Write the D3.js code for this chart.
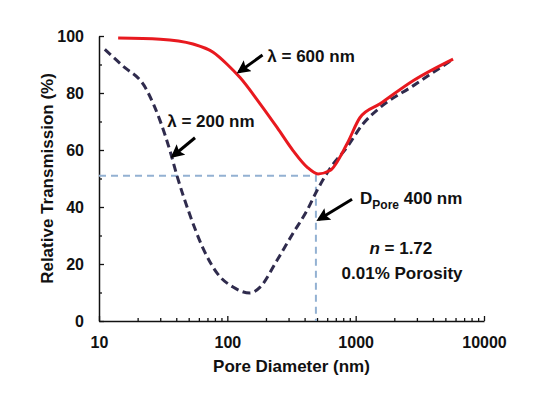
<!DOCTYPE html>
<html>
<head>
<meta charset="utf-8">
<script src="https://cdn.jsdelivr.net/npm/d3@7"></script>
<style>
  body { margin: 0; background: #fff; }
  text { font-family: "Liberation Sans", Arial, sans-serif; font-weight: bold; fill: #111; }
</style>
</head>
<body>
<script>
// pore diameter (nm) and relative transmission (%)
var redNm   = [14.1, 30, 54, 77.5, 99.5, 125.6, 180, 244, 325, 418, 509, 631, 857, 1082, 1549, 2800, 5742];
var redPct  = [99.3, 98.9, 97.2, 94.3, 90.1, 85.4, 76.2, 67.9, 59.8, 54, 51.6, 52.8, 62.2, 71.4, 76.2, 84.3, 91.9];

var blueNm  = [11.1, 16, 21, 22.5, 24, 29.9, 35.7, 40.5, 51.2, 64.7, 83.2, 110.8, 150, 180, 244, 325, 418, 500, 631, 857, 1143, 1549, 2800, 5742];
var bluePct = [95.3, 88.8, 84.4, 82.6, 80.3, 70.3, 59.8, 51, 37.1, 25.5, 16.8, 11.9, 9.8, 11.9, 21.3, 30.8, 38.8, 45.8, 53.5, 61, 69.2, 74.9, 82.5, 91.9];

var guideNm = 490, guidePct = 51;

var xTicks = [10, 100, 1000, 10000];
var yTicks = [0, 20, 40, 60, 80, 100];

var width = 554, height = 394;
var margin = {top: 36, right: 70, bottom: 73, left: 99};

var svg = d3.select("body").append("svg")
    .attr("width", width)
    .attr("height", height);

var x = d3.scaleLog().domain([10, 10000]).range([margin.left, width - margin.right]);
var y = d3.scaleLinear().domain([0, 100]).range([height - margin.bottom, margin.top]);

// minor ticks
var xMinor = [];
[10, 100, 1000].forEach(function (d) { for (var k = 2; k <= 9; k++) xMinor.push(d * k); });
var yMinor = [10, 30, 50, 70, 90];

svg.append("g")
    .attr("transform", "translate(0," + y(0) + ")")
    .call(d3.axisBottom(x).tickValues(xMinor).tickSize(-3).tickFormat(""))
    .call(function (g) { g.select(".domain").remove(); });
svg.append("g")
    .attr("transform", "translate(" + x(10) + ",0)")
    .call(d3.axisLeft(y).tickValues(yMinor).tickSize(-3).tickFormat(""))
    .call(function (g) { g.select(".domain").remove(); });

var xAxis = svg.append("g")
    .attr("transform", "translate(0," + y(0) + ")")
    .call(d3.axisBottom(x).tickValues(xTicks).tickSize(-5).tickPadding(13).tickSizeOuter(0).tickFormat(d3.format("d")));
var yAxis = svg.append("g")
    .attr("transform", "translate(" + x(10) + ",0)")
    .call(d3.axisLeft(y).tickValues(yTicks).tickSize(-5).tickPadding(15).tickSizeOuter(0));

svg.selectAll(".tick line").attr("stroke", "#111").attr("stroke-width", 1.3);
svg.selectAll(".domain").attr("stroke", "#111").attr("stroke-width", 1.5);
svg.selectAll(".tick text").style("font-size", "16px").style("font-family", "Liberation Sans, Arial, sans-serif").style("font-weight", "bold").attr("fill", "#111");
yAxis.selectAll(".tick text").attr("dy", "0.35em");
xAxis.selectAll(".tick text").attr("dy", "0.9em");

// axis titles
svg.append("text")
    .attr("x", (x.range()[0] + x.range()[1]) / 2)
    .attr("y", 372)
    .attr("text-anchor", "middle")
    .style("font-size", "17px")
    .text("Pore Diameter (nm)");
svg.append("text")
    .attr("transform", "translate(53," + (y(50)) + ") rotate(-90)")
    .attr("text-anchor", "middle")
    .style("font-size", "17px")
    .text("Relative Transmission (%)");

// guide lines at the 600 nm minimum
svg.append("path")
    .attr("d", d3.line()([[x(10), y(guidePct)], [x(guideNm), y(guidePct)], [x(guideNm), y(0)]]))
    .attr("fill", "none")
    .attr("stroke", "#93b1d2")
    .attr("stroke-width", 2)
    .attr("stroke-dasharray", "7,5");

var line = d3.line()
    .x(function (d) { return x(d[0]); })
    .y(function (d) { return y(d[1]); })
    .curve(d3.curveMonotoneX);

svg.append("path")
    .datum(blueNm.map(function (d, i) { return [d, bluePct[i]]; }))
    .attr("d", line)
    .attr("fill", "none")
    .attr("stroke", "#2f2b4d")
    .attr("stroke-width", 3)
    .attr("stroke-dasharray", "8,4.5");

svg.append("path")
    .datum(redNm.map(function (d, i) { return [d, redPct[i]]; }))
    .attr("d", line)
    .attr("fill", "none")
    .attr("stroke", "#e8191f")
    .attr("stroke-width", 3);

// annotations (positions in data units)
svg.append("defs").append("marker")
    .attr("id", "head")
    .attr("viewBox", "0 0 10 10")
    .attr("refX", 8).attr("refY", 5)
    .attr("markerWidth", 4.5).attr("markerHeight", 4.5)
    .attr("orient", "auto")
  .append("path")
    .attr("d", "M0,0 L10,5 L0,10 L2,5 z")
    .attr("fill", "#000");

var arrows = [
  {from: [188, 93.3], to: [123, 87.4]},
  {from: [56, 64.3], to: [37.5, 57.8]},
  {from: [937, 42.7], to: [515, 35.6]}
];
svg.selectAll(".arrow").data(arrows).enter().append("line")
    .attr("x1", function (d) { return x(d.from[0]); })
    .attr("y1", function (d) { return y(d.from[1]); })
    .attr("x2", function (d) { return x(d.to[0]); })
    .attr("y2", function (d) { return y(d.to[1]); })
    .attr("stroke", "#000")
    .attr("stroke-width", 3)
    .attr("marker-end", "url(#head)");

svg.append("text").attr("x", x(205)).attr("y", y(93)).attr("dy", "0.35em")
    .style("font-size", "17px").text("λ = 600 nm");
svg.append("text").attr("x", x(34)).attr("y", y(70.3)).attr("dy", "0.35em")
    .style("font-size", "17px").text("λ = 200 nm");

var dp = svg.append("text").attr("x", x(1082)).attr("y", y(43)).attr("dy", "0.35em")
    .style("font-size", "17px");
dp.append("tspan").text("D");
dp.append("tspan").attr("dy", "5").style("font-size", "12px").text("Pore");
dp.append("tspan").attr("dy", "-5").text(" 400 nm");

var nt = svg.append("text").attr("x", x(2250)).attr("y", y(25.5)).attr("dy", "0.35em")
    .attr("text-anchor", "middle").style("font-size", "17px");
nt.append("tspan").style("font-style", "italic").text("n");
nt.append("tspan").text(" = 1.72");
svg.append("text").attr("x", x(2300)).attr("y", y(16.8)).attr("dy", "0.35em")
    .attr("text-anchor", "middle").style("font-size", "17px").text("0.01% Porosity");
</script>
</body>
</html>
